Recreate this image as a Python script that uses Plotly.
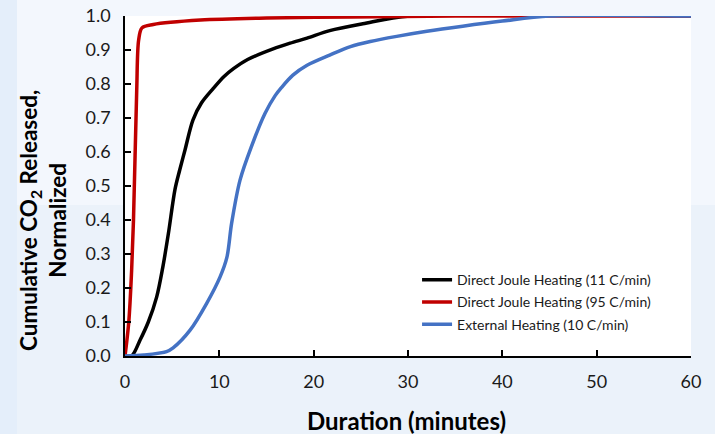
import plotly.graph_objects as go

# ---- data ----
black_x = [0, 0.7, 1.6, 2.47, 3.36, 4.0, 4.6, 5.3, 5.8, 6.36, 7.2, 8.1, 9.3, 10.5, 11.5, 13.0, 15.7, 17.5, 19.3, 21.7, 25.2, 30.2, 60]
black_y = [0, 0, 0.047, 0.1, 0.174, 0.26, 0.36, 0.49, 0.547, 0.606, 0.694, 0.744, 0.785, 0.822, 0.845, 0.872, 0.903, 0.92, 0.935, 0.957, 0.977, 1.0, 1.0]

red_x = [0, 0.4, 0.7, 0.9, 1.24, 1.45, 1.8, 3, 8, 15, 24, 35, 60]
red_y = [0, 0.1, 0.25, 0.4, 0.78, 0.93, 0.965, 0.975, 0.988, 0.994, 0.997, 1.0, 1.0]

blue_x = [0, 2, 4.4, 5.1, 6.9, 8.66, 10.07, 10.8, 11.3, 12.2, 13.4, 14.85, 15.9, 16.6, 17.8, 19.3, 21.7, 23.9, 26.0, 28.8, 32.0, 35.8, 40.0, 45, 60]
blue_y = [0, 0.003, 0.013, 0.024, 0.076, 0.155, 0.232, 0.29, 0.39, 0.518, 0.616, 0.714, 0.765, 0.79, 0.826, 0.855, 0.885, 0.91, 0.925, 0.94, 0.955, 0.97, 0.985, 1.0, 1.0]

names = ["Direct Joule Heating (11 C/min)", "Direct Joule Heating (95 C/min)", "External Heating (10 C/min)"]
colors = ["#000000", "#C00000", "#4472C4"]

x_ticks = [0, 10, 20, 30, 40, 50, 60]
y_ticks = [0.0, 0.1, 0.2, 0.3, 0.4, 0.5, 0.6, 0.7, 0.8, 0.9, 1.0]

x_title = "<b>Duration (minutes)</b>"
y_title = "<b>Cumulative CO<sub>2</sub> Released,<br>Normalized</b>"

FONT = "Lato, 'Open Sans', sans-serif"
BG = "#EBF2FA"

W, H = 715, 434
ML, MR, MT, MB = 125, 24, 16, 78
PW, PH = W - ML - MR, H - MT - MB


def px2paper_x(px):
    return (px - ML) / PW


def px2paper_y(py):
    return (H - MB - py) / PH


fig = go.Figure()
for i, (xs, ys, nm, c) in enumerate([(black_x, black_y, names[0], colors[0]),
                                     (red_x, red_y, names[1], colors[1]),
                                     (blue_x, blue_y, names[2], colors[2])]):
    fig.add_trace(go.Scatter(x=xs, y=ys, mode="lines", name=nm, legendgroup=f"g{i}",
                             line=dict(color=c, width=3.5, shape="spline", smoothing=0.9)))

axis_common = dict(showgrid=False, zeroline=False, showline=True, linecolor="#000000", linewidth=1.5,
                   ticks="inside", ticklen=6, tickwidth=1.5, tickcolor="#000000",
                   tickfont=dict(family=FONT, size=18, color="#1a1a1a"), mirror=False,
                   automargin=False, ticklabelstandoff=9)

fig.update_xaxes(range=[0, 60], tickvals=x_ticks, **axis_common)
fig.update_yaxes(range=[0, 1.0], tickvals=y_ticks, tickformat=".1f", **axis_common)

# background tint regions (lighter upper area, slightly bluer left strip), then white plot area
fig.add_shape(type="rect", xref="paper", yref="paper", layer="below",
              x0=px2paper_x(0), x1=px2paper_x(W), y0=px2paper_y(205), y1=px2paper_y(0),
              fillcolor="#F3F7FD", line_width=0)
fig.add_shape(type="rect", xref="paper", yref="paper", layer="below",
              x0=px2paper_x(0), x1=px2paper_x(17), y0=px2paper_y(H), y1=px2paper_y(0),
              fillcolor="#E4EEFA", line_width=0)
fig.add_shape(type="rect", xref="paper", yref="paper", layer="below",
              x0=0, x1=1, y0=0, y1=1, fillcolor="#FFFFFF", line_width=0)

fig.add_annotation(text=x_title, xref="paper", yref="paper",
                   x=px2paper_x(406), y=px2paper_y(420), xanchor="center", yanchor="middle",
                   showarrow=False, font=dict(family=FONT, size=24, color="#000000"))
fig.add_annotation(text=y_title, xref="paper", yref="paper", textangle=-90,
                   x=px2paper_x(43), y=px2paper_y(221), xanchor="center", yanchor="middle",
                   showarrow=False, align="center",
                   font=dict(family=FONT, size=22.5, color="#000000"))

fig.update_layout(
    width=W, height=H,
    margin=dict(l=ML, r=MR, t=MT, b=MB, autoexpand=False),
    paper_bgcolor=BG,
    plot_bgcolor="rgba(0,0,0,0)",
    showlegend=True,
    legend=dict(x=0.516, y=0.27, xanchor="left", yanchor="top",
                bgcolor="rgba(0,0,0,0)", borderwidth=0,
                font=dict(family=FONT, size=14, color="#1a1a1a"),
                tracegroupgap=1),
)

fig.write_html("out.html", config={"displayModeBar": False},
               post_script="document.body.style.margin='0';document.body.style.background='" + BG + "';")
